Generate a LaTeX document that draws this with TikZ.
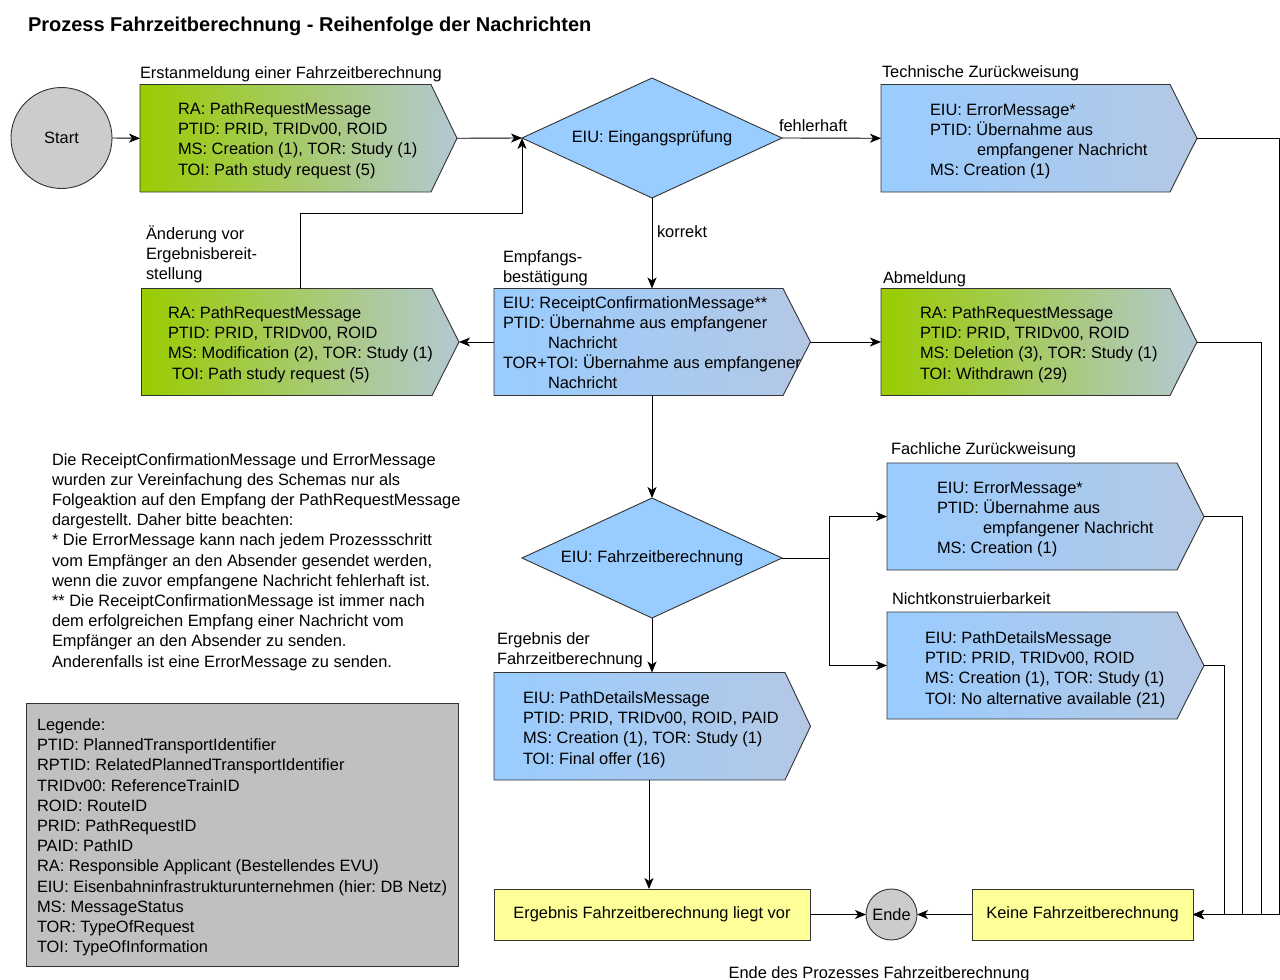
\documentclass[tikz,border=0pt]{standalone}
\usepackage{fontspec}
\setmainfont{Liberation Sans}
\usetikzlibrary{shapes.geometric,arrows.meta,calc}
\definecolor{grL}{RGB}{153,204,0}
\definecolor{grR}{RGB}{180,200,212}
\definecolor{blL}{RGB}{153,204,255}
\definecolor{blR}{RGB}{180,200,228}
\definecolor{dia}{RGB}{153,204,255}
\definecolor{ylw}{RGB}{255,255,153}
\definecolor{gry}{RGB}{204,204,204}
\definecolor{leg}{RGB}{192,192,192}
\definecolor{edge}{RGB}{51,51,51}
\frenchspacing
\newcommand\mtext[1]{\vtop{\baselineskip=20.2pt\lineskiplimit=-30pt\lineskip=0pt\halign{##\hfil\cr#1\crcr}}}
\newcommand\sigbox[7]{%
  \node[sigbody, minimum width={#4pt-#2pt}, minimum height={#6pt-#3pt}, anchor=north west] (#1) at (#2,#3) {};
  \coordinate (#1-tip) at ($(#1.east)+({#5-#4},0)$);
  \shade[sigframe, #7] (#1.north west) -- (#1.north east) -- (#1-tip) -- (#1.south east) -- (#1.south west) -- cycle;
}
\begin{document}
\begin{tikzpicture}[x=1pt,y=-1pt,
  every node/.style={font=\fontsize{16.4}{20.2}\selectfont},
  txt/.style={anchor=base west, inner sep=0pt, outer sep=0pt},
  sigbody/.style={inner sep=0pt, outer sep=0pt},
  sigframe/.style={draw=edge, line width=0.9pt},
  greenshade/.style={left color=grL, right color=grR},
  blueshade/.style={left color=blL, right color=blR},
  conn/.style={draw=black, line width=0.9pt},
  arr/.style={conn, -{Stealth[length=11pt,width=9pt,inset=3pt]}},
  decision/.style={diamond, draw=edge, fill=dia, line width=0.9pt, inner sep=0pt, outer sep=0pt, aspect=2.1667, minimum width=260pt, minimum height=120pt},
  term/.style={circle, draw=edge, fill=gry, line width=0.9pt, inner sep=0pt, outer sep=0pt},
  endbox/.style={rectangle, draw=edge, fill=ylw, line width=0.9pt, inner sep=0pt, outer sep=0pt, minimum height=51pt},
]
\useasboundingbox (0,0) rectangle (1280,980);

% title
\node[txt, font=\fontsize{20}{24}\selectfont\bfseries] (title) at (28,31) {Prozess Fahrzeitberechnung - Reihenfolge der Nachrichten};

% shapes
\node[term, minimum size=101pt] (start) at (61.5,138) {Start};
\sigbox{b1}{140}{84.5}{431}{457}{192}{greenshade}
\sigbox{tz}{881}{84.5}{1170}{1197}{192}{blueshade}
\sigbox{aend}{141.5}{288.5}{432}{459}{395.5}{greenshade}
\sigbox{rc}{494}{288.5}{783}{810.5}{395.5}{blueshade}
\sigbox{abm}{881}{288.5}{1170}{1197}{395.5}{greenshade}
\sigbox{fz}{887}{463}{1177}{1204}{570}{blueshade}
\sigbox{nk}{887}{612}{1177}{1204}{719}{blueshade}
\sigbox{pd}{494}{672.5}{785}{810.5}{780}{blueshade}
\node[decision] (d1) at (652,138) {EIU: Eingangsprüfung};
\node[decision] (d2) at (652,558) {EIU: Fahrzeitberechnung};
\node[endbox, minimum width=316pt, anchor=north west] (res) at (494,889) {Ergebnis Fahrzeitberechnung liegt vor};
\node[endbox, minimum width=221pt, anchor=north west] (keine) at (972,889) {Keine Fahrzeitberechnung};
\node[term, minimum size=51pt] (ende) at (891.5,914.5) {Ende};
\node[rectangle, draw=edge, fill=leg, line width=0.9pt, inner sep=0pt, minimum width=432pt, minimum height=263pt, anchor=north west] (legend) at (26,703) {};

% box texts
\node[txt] (b1t) at (178,114.5) {\mtext{RA: PathRequestMessage\cr PTID: PRID, TRIDv00, ROID\cr MS: Creation (1), TOR: Study (1)\cr TOI: Path study request (5)}};
\node[txt] (tzt) at (930,115) {\mtext{EIU: ErrorMessage*\cr PTID: Übernahme aus\cr \hspace*{47pt}empfangener Nachricht\cr MS: Creation (1)}};
\node[txt] (aendt) at (168,318.5) {\mtext{RA: PathRequestMessage\cr PTID: PRID, TRIDv00, ROID\cr MS: Modification (2), TOR: Study (1)\cr \hspace*{4pt}TOI: Path study request (5)}};
\node[txt] (rct) at (503,308) {\mtext{EIU: ReceiptConfirmationMessage**\cr PTID: Übernahme aus empfangener\cr \hspace*{45pt}Nachricht\cr TOR+TOI: Übernahme aus empfangener\cr \hspace*{45pt}Nachricht}};
\node[txt] (abmt) at (920,318.5) {\mtext{RA: PathRequestMessage\cr PTID: PRID, TRIDv00, ROID\cr MS: Deletion (3), TOR: Study (1)\cr TOI: Withdrawn (29)}};
\node[txt] (fzt) at (937,493) {\mtext{EIU: ErrorMessage*\cr PTID: Übernahme aus\cr \hspace*{46pt}empfangener Nachricht\cr MS: Creation (1)}};
\node[txt] (nkt) at (925,643.5) {\mtext{EIU: PathDetailsMessage\cr PTID: PRID, TRIDv00, ROID\cr MS: Creation (1), TOR: Study (1)\cr TOI: No alternative available (21)}};
\node[txt] (pdt) at (523,703.5) {\mtext{EIU: PathDetailsMessage\cr PTID: PRID, TRIDv00, ROID, PAID\cr MS: Creation (1), TOR: Study (1)\cr TOI: Final offer (16)}};

% labels
\node[txt] (l1) at (140,78) {Erstanmeldung einer Fahrzeitberechnung};
\node[txt] (l2) at (882,77.5) {Technische Zurückweisung};
\node[txt] (l3) at (146,239) {\mtext{Änderung vor\cr Ergebnisbereit-\cr stellung}};
\node[txt] (l4) at (503,262) {\mtext{Empfangs-\cr bestätigung}};
\node[txt] (l5) at (883,283) {Abmeldung};
\node[txt] (l6) at (891,454) {Fachliche Zurückweisung};
\node[txt] (l7) at (892,604) {Nichtkonstruierbarkeit};
\node[txt] (l8) at (497,644.5) {\mtext{Ergebnis der\cr Fahrzeitberechnung}};
\node[txt] (lf) at (779,131) {fehlerhaft};
\node[txt] (lk) at (657,237) {korrekt};
\node[anchor=base, inner sep=0pt] (lend) at (879,978) {Ende des Prozesses Fahrzeitberechnung};

% note and legend text
\node[txt] (note) at (52,465) {\mtext{Die ReceiptConfirmationMessage und ErrorMessage\cr wurden zur Vereinfachung des Schemas nur als\cr Folgeaktion auf den Empfang der PathRequestMessage\cr dargestellt. Daher bitte beachten:\cr * Die ErrorMessage kann nach jedem Prozessschritt\cr vom Empfänger an den Absender gesendet werden,\cr wenn die zuvor empfangene Nachricht fehlerhaft ist.\cr ** Die ReceiptConfirmationMessage ist immer nach\cr dem erfolgreichen Empfang einer Nachricht vom\cr Empfänger an den Absender zu senden.\cr Anderenfalls ist eine ErrorMessage zu senden.}};
\node[txt] (legt) at (37,730.5) {\mtext{Legende:\cr PTID: PlannedTransportIdentifier\cr RPTID: RelatedPlannedTransportIdentifier\cr TRIDv00: ReferenceTrainID\cr ROID: RouteID\cr PRID: PathRequestID\cr PAID: PathID\cr RA: Responsible Applicant (Bestellendes EVU)\cr EIU: Eisenbahninfrastrukturunternehmen (hier: DB Netz)\cr MS: MessageStatus\cr TOR: TypeOfRequest\cr TOI: TypeOfInformation}};

% connectors
\draw[arr] (start.east) -- (b1.west);
\draw[arr] (b1-tip) -- (d1.west);
\draw[arr] (d1.east) -- (tz.west);
\draw[arr] (d1.south) -- (d1.south |- rc.north);
\draw[arr] (rc.west) -- (aend-tip);
\coordinate (aendout) at (300,288.5);
\draw[arr] (aendout) |- ($(d1.west)+(0,75)$) -- (d1.west);
\draw[arr] (rc-tip) -- (abm.west);
\draw[arr] (rc.south -| d1.south) -- (d2.north);
\coordinate (br) at ($(d2.east)+(47.5,0)$);
\draw[conn] (d2.east) -- (br);
\draw[arr] (br) |- (fz.west);
\draw[arr] (br) |- (nk.west);
\draw[arr] (d2.south) -- (d2.south |- pd.north);
\coordinate (pdout) at (649,780);
\draw[arr] (pdout) -- (pdout |- res.north);
\draw[arr] (res.east) -- (ende.west);
\draw[arr] (keine.west) -- (ende.east);
\draw[arr] (tz-tip) -- ++(82,0) |- (keine.east);
\draw[arr] (abm-tip) -- ++(64,0) |- (keine.east);
\draw[arr] (fz-tip) -- ++(38,0) |- (keine.east);
\draw[arr] (nk-tip) -- ++(20,0) |- (keine.east);
\end{tikzpicture}
\end{document}
